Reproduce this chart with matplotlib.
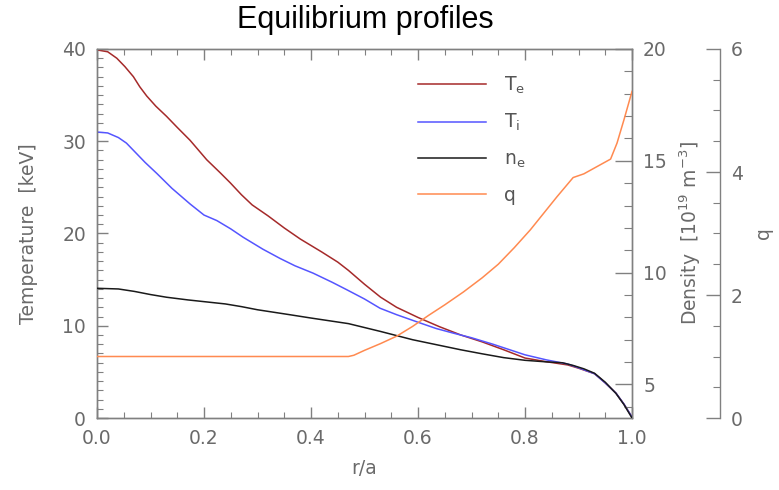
import matplotlib
matplotlib.use("Agg")
import matplotlib.pyplot as plt
from matplotlib.ticker import MultipleLocator

# ---- data ----
x_te = [0.0, 0.02, 0.037, 0.052, 0.068, 0.08, 0.093, 0.11, 0.13, 0.15, 0.174,
        0.205, 0.23, 0.249, 0.27, 0.29, 0.32, 0.35, 0.38, 0.42, 0.45, 0.47,
        0.50, 0.53, 0.56, 0.60, 0.64, 0.68, 0.72, 0.76, 0.80, 0.84, 0.88,
        0.90, 0.93, 0.95, 0.97, 0.985, 1.0]
te = [39.9, 39.7, 39.0, 38.1, 37.0, 35.9, 34.9, 33.8, 32.7, 31.5, 30.1,
      28.0, 26.6, 25.5, 24.2, 23.1, 21.9, 20.6, 19.4, 18.0, 16.9, 16.0,
      14.5, 13.1, 12.0, 10.9, 9.9, 9.0, 8.25, 7.4, 6.5, 6.1, 5.75,
      5.4, 4.8, 3.8, 2.7, 1.5, 0.1]

x_ti = [0.0, 0.02, 0.04, 0.055, 0.07, 0.09, 0.112, 0.14, 0.174, 0.20, 0.224,
        0.25, 0.273, 0.31, 0.342, 0.37, 0.404, 0.44, 0.467, 0.50, 0.529,
        0.56, 0.604, 0.634, 0.666, 0.70, 0.74, 0.80, 0.84, 0.88, 0.90,
        0.93, 0.95, 0.97, 0.985, 1.0]
ti = [31.0, 30.9, 30.4, 29.8, 28.9, 27.7, 26.5, 24.9, 23.2, 22.0, 21.4,
      20.5, 19.6, 18.3, 17.3, 16.5, 15.7, 14.7, 13.9, 12.9, 11.9,
      11.2, 10.3, 9.7, 9.2, 8.7, 8.0, 6.85, 6.3, 5.85, 5.45,
      4.8, 3.8, 2.7, 1.5, 0.1]

x_ne = [0.0, 0.04, 0.07, 0.10, 0.13, 0.17, 0.24, 0.27, 0.30, 0.36, 0.40, 0.47,
        0.53, 0.59, 0.65, 0.68, 0.72, 0.76, 0.80, 0.84, 0.87, 0.89, 0.91,
        0.93, 0.95, 0.97, 0.985, 1.0]
ne = [9.3, 9.27, 9.16, 9.02, 8.9, 8.78, 8.6, 8.48, 8.34, 8.12, 7.97, 7.72,
      7.37, 7.0, 6.7, 6.55, 6.37, 6.2, 6.08, 6.01, 5.97, 5.85, 5.7,
      5.5, 5.1, 4.6, 4.1, 3.5]

x_q = [0.0, 0.47, 0.48, 0.50, 0.53, 0.56, 0.59, 0.62, 0.65, 0.685, 0.72, 0.75,
       0.78, 0.81, 0.835, 0.86, 0.89, 0.91, 0.935, 0.96, 0.972, 0.985, 1.0]
q = [1.0, 1.0, 1.02, 1.1, 1.21, 1.33, 1.49, 1.67, 1.84, 2.05, 2.28, 2.5,
     2.77, 3.06, 3.33, 3.6, 3.91, 3.97, 4.09, 4.21, 4.47, 4.85, 5.31]

x_ticks = [0.0, 0.2, 0.4, 0.6, 0.8, 1.0]
x_ticklabels = ["0.0", "0.2", "0.4", "0.6", "0.8", "1.0"]
legend_labels = [r"T$_\mathrm{e}$", r"T$_\mathrm{i}$", r"n$_\mathrm{e}$", "q"]

# ---- style ----
c_te = "#A52A2A"
c_ti = "#5555FF"
c_ne = "#1A1A1A"
c_q = "#FF8A50"
gray = "#808080"
tgray = "#6a6a6a"
fs = 13.5

plt.rcParams["font.family"] = ["DejaVu Sans"]
plt.rcParams["mathtext.fontset"] = "custom"
plt.rcParams["mathtext.rm"] = "DejaVu Sans"

fig = plt.figure(figsize=(7.79, 4.90), dpi=100)
ax = fig.add_axes([97 / 779, 1 - 418 / 490, 535 / 779, 369 / 490])
ax2 = ax.twinx()
ax3 = ax.twinx()

l_te, = ax.plot(x_te, te, color=c_te, lw=1.1, zorder=3)
l_ti, = ax.plot(x_ti, ti, color=c_ti, lw=1.1, zorder=3)
l_ne, = ax2.plot(x_ne, ne, color=c_ne, lw=1.1, zorder=4)
l_q, = ax3.plot(x_q, q, color=c_q, lw=1.1)

ax.set_xlim(0, 1)
ax.set_ylim(0, 40)
ax2.set_ylim(3.5, 20)
ax3.set_ylim(0, 6)

for a in (ax, ax2, ax3):
    for s in a.spines.values():
        s.set_color(gray)
        s.set_linewidth(1.0)

# main axes
ax.set_xticks(x_ticks)
ax.set_xticklabels(x_ticklabels)
ax.xaxis.set_minor_locator(MultipleLocator(0.05))
ax.yaxis.set_major_locator(MultipleLocator(10))
ax.yaxis.set_minor_locator(MultipleLocator(1))
ax.tick_params(axis="both", which="both", direction="in", colors=gray,
               labelcolor=tgray, labelsize=fs, top=True, right=False)
ax.tick_params(axis="both", which="major", length=8, width=1.0, pad=8)
ax.tick_params(axis="both", which="minor", length=4, width=0.8)
ax.set_xlabel("r/a", color=tgray, fontsize=fs, labelpad=8)
ax.set_ylabel("Temperature  [keV]", color=tgray, fontsize=fs)
ax.yaxis.set_label_coords(-0.11, 0.5)

# density axis
ax2.yaxis.set_major_locator(MultipleLocator(5))
ax2.yaxis.set_minor_locator(MultipleLocator(1))
ax2.tick_params(axis="y", which="both", direction="in", colors=gray,
                labelcolor=tgray, labelsize=fs)
ax2.tick_params(axis="y", which="major", length=12, width=1.0, pad=8)
ax2.tick_params(axis="y", which="minor", length=6, width=0.8)
ax2.set_ylabel(r"Density  [10$^{19}$ m$^{-3}$]", color=tgray, fontsize=fs)
ax2.yaxis.set_label_coords(1.085, 0.5)

# q axis
ax3.spines["right"].set_position(("axes", (720 - 97) / 535))
for side in ("left", "top", "bottom"):
    ax3.spines[side].set_visible(False)
ax3.yaxis.set_major_locator(MultipleLocator(2))
ax3.yaxis.set_minor_locator(MultipleLocator(0.5))
ax3.tick_params(axis="y", which="both", direction="in", colors=gray,
                labelcolor=tgray, labelsize=fs)
ax3.tick_params(axis="y", which="major", length=10, width=1.0, pad=8)
ax3.tick_params(axis="y", which="minor", length=5, width=0.8)
ax3.set_ylabel("q", color=tgray, fontsize=fs, rotation=90)
ax3.yaxis.set_label_coords(1.228, 0.5)

# legend
leg = ax.legend([l_te, l_ti, l_ne, l_q], legend_labels, loc="upper left",
                bbox_to_anchor=(0.6, 0.93), frameon=False, fontsize=fs,
                handlelength=3.6, handletextpad=1.0, labelspacing=0.85,
                borderpad=0, borderaxespad=0)
for t in leg.get_texts():
    t.set_color("#555555")

fig.text(365 / 779, 1 - 20 / 490, "Equilibrium profiles", ha="center", va="center",
         fontsize=22, family=["Liberation Sans"], color="black")

fig.savefig("out.png", dpi=100)
